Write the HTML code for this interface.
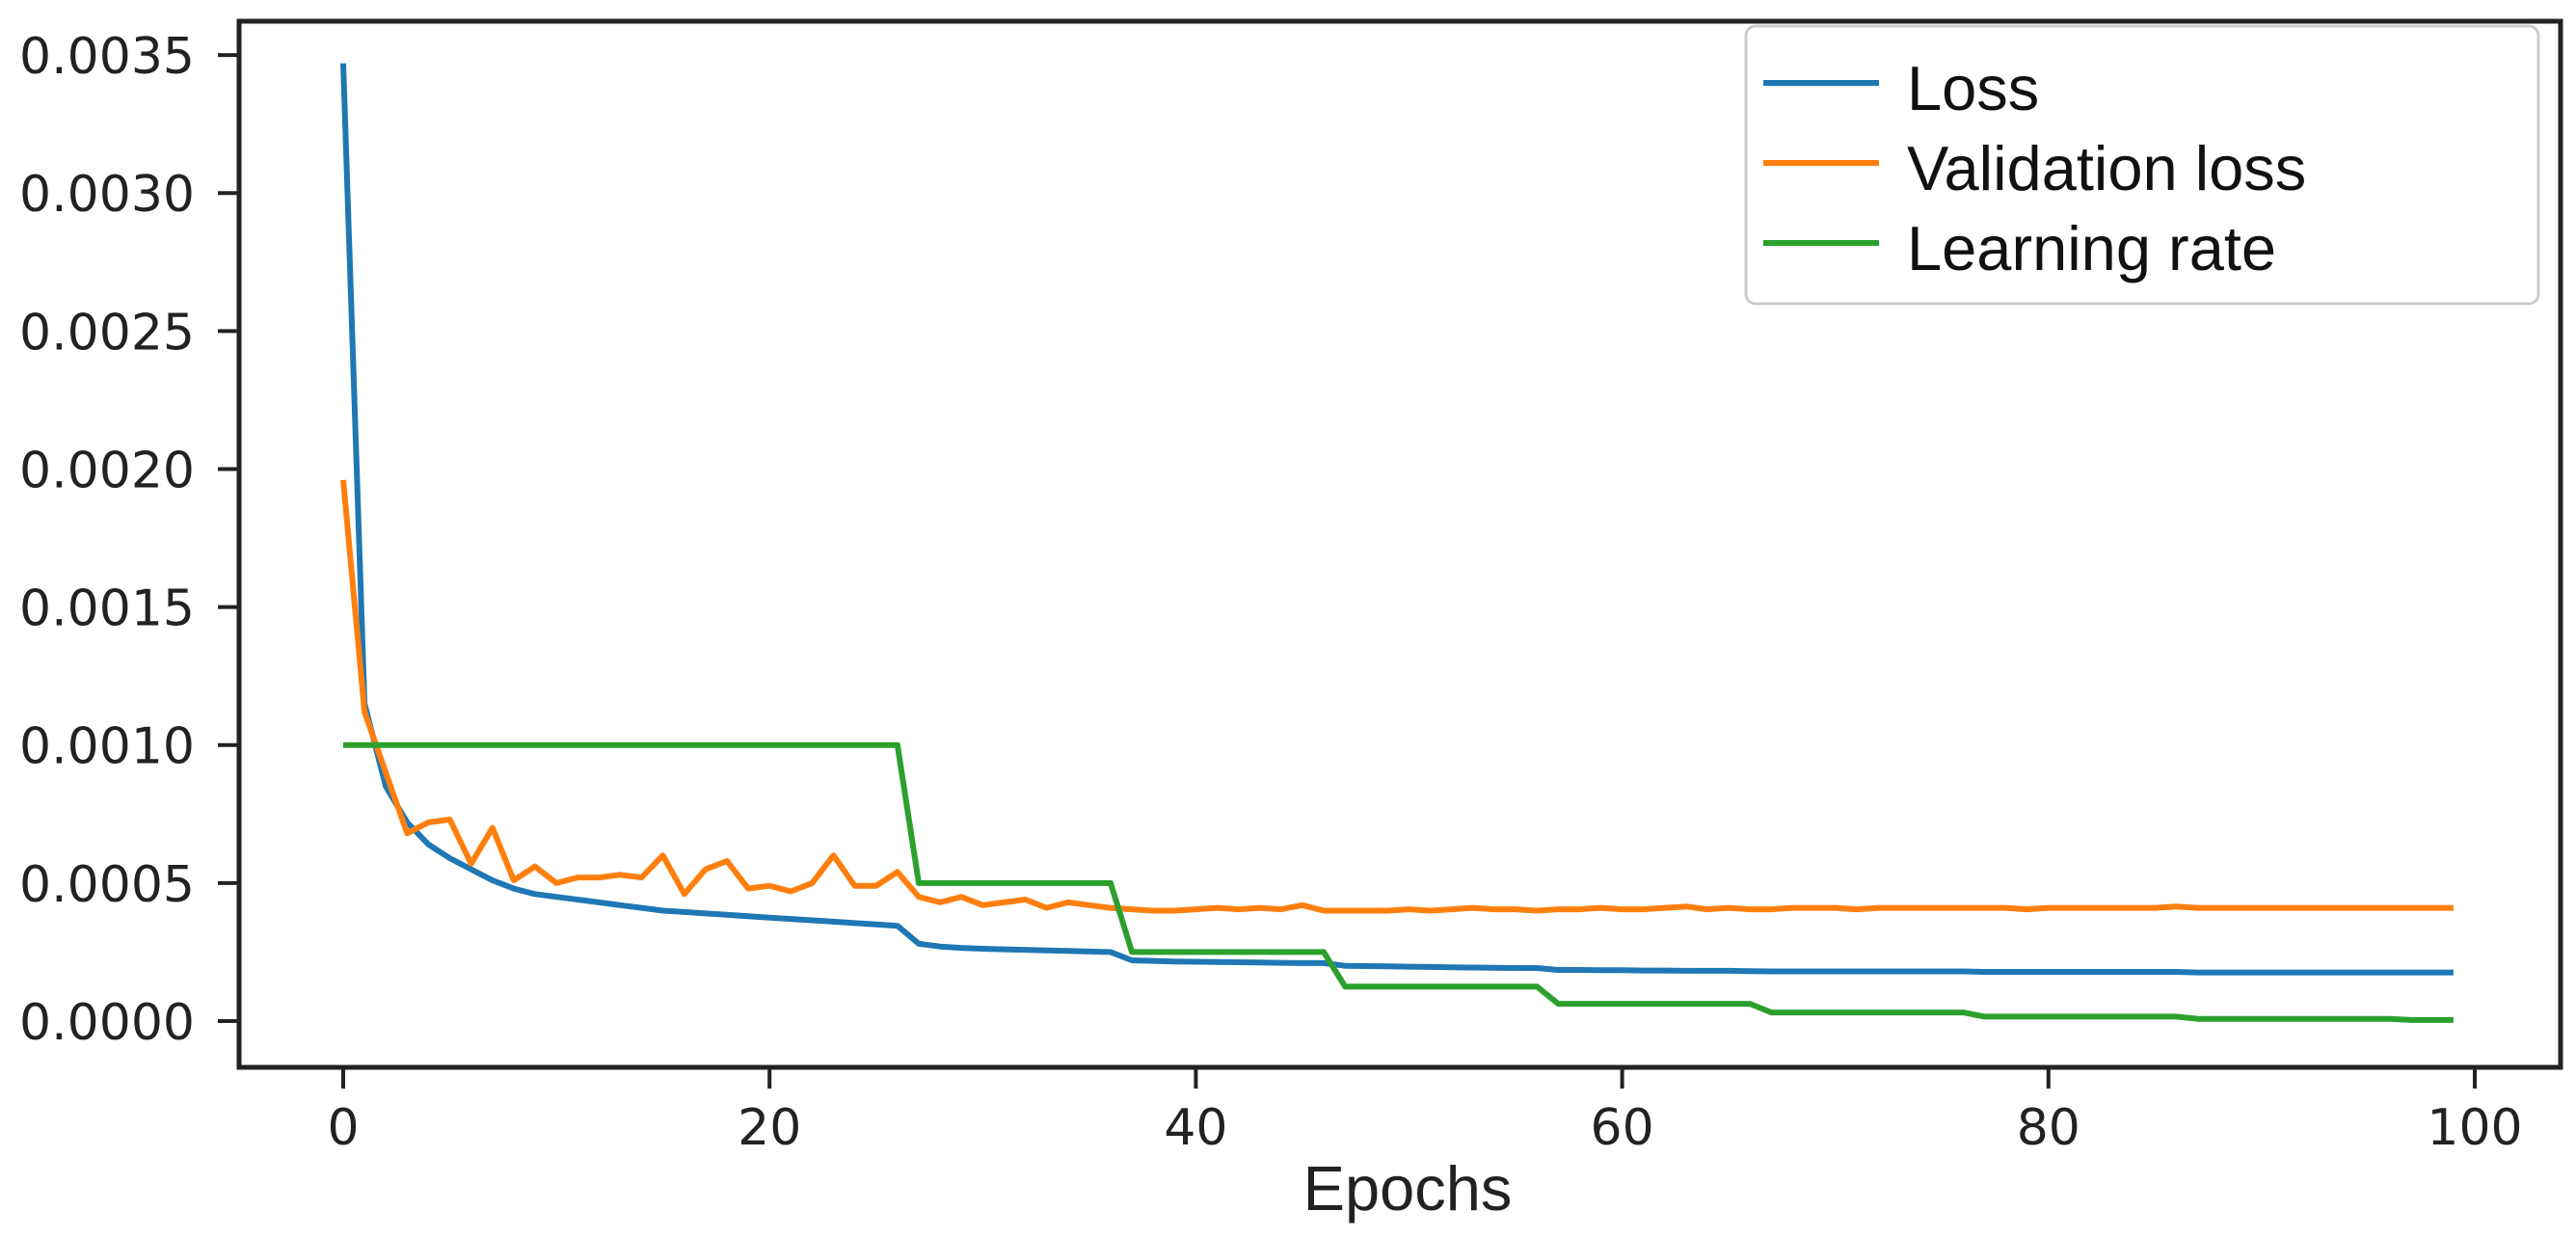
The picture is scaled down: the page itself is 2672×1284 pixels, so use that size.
<!DOCTYPE html>
<html><head><meta charset="utf-8"><style>
html,body{margin:0;padding:0;background:#fff;width:2672px;height:1284px;overflow:hidden}
svg{display:block}
</style></head><body>
<svg id="chart" width="2672" height="1284" xmlns="http://www.w3.org/2000/svg">
<rect x="0" y="0" width="2672" height="1284" fill="#fff"/>
<g id="series"></g>
<rect x="248" y="22" width="2408" height="1085" fill="none" stroke="#222" stroke-width="5"/>
<g id="yticks" font-family="DejaVu Sans, sans-serif" font-size="52" fill="#222" text-anchor="end"></g>
<g id="xticks" font-family="DejaVu Sans, sans-serif" font-size="52" fill="#222" text-anchor="middle"></g>
<text x="1460" y="1255" font-family="Liberation Sans, sans-serif" font-size="65" fill="#222" text-anchor="middle">Epochs</text>
<g>
<rect x="1811" y="27" width="822" height="288" rx="10" fill="#fff" stroke="#ccc" stroke-width="3"/>
<line x1="1829" y1="86" x2="1949" y2="86" stroke="#1f77b4" stroke-width="6"/>
<text x="1978" y="114" font-family="Liberation Sans, sans-serif" font-size="65" fill="#111">Loss</text>
<line x1="1829" y1="169" x2="1949" y2="169" stroke="#ff7f0e" stroke-width="6"/>
<text x="1978" y="197" font-family="Liberation Sans, sans-serif" font-size="65" fill="#111">Validation loss</text>
<line x1="1829" y1="252" x2="1949" y2="252" stroke="#2ca02c" stroke-width="6"/>
<text x="1978" y="280" font-family="Liberation Sans, sans-serif" font-size="65" fill="#111">Learning rate</text>
</g>
</svg>
<script>
const lossVals = [3.47,1.15,0.85,0.72,0.64,0.59,0.55,0.51,0.48,0.46,
0.45,0.44,0.43,0.42,0.41,0.40,0.395,0.39,0.385,0.38,
0.375,0.37,0.365,0.36,0.355,0.35,0.345,0.28,0.27,0.265,
0.262,0.26,0.258,0.256,0.254,0.252,0.25,0.22,0.218,0.216,
0.215,0.214,0.213,0.212,0.211,0.21,0.21,0.2,0.199,0.198,
0.197,0.196,0.195,0.194,0.193,0.192,0.192,0.185,0.185,0.184,
0.184,0.183,0.183,0.182,0.182,0.182,0.181,0.18,0.18,0.18,
0.18,0.18,0.18,0.18,0.18,0.18,0.18,0.178,0.178,0.178,
0.178,0.178,0.178,0.178,0.178,0.178,0.178,0.176,0.176,0.176,
0.176,0.176,0.176,0.176,0.176,0.176,0.176,0.176,0.176,0.176];
const valVals = [1.96,1.12,0.9,0.68,0.72,0.73,0.57,0.7,0.51,0.56,
0.5,0.52,0.52,0.53,0.52,0.6,0.46,0.55,0.58,0.48,
0.49,0.47,0.5,0.6,0.49,0.49,0.54,0.45,0.43,0.45,
0.42,0.43,0.44,0.41,0.43,0.42,0.41,0.405,0.4,0.4,
0.405,0.41,0.405,0.41,0.405,0.42,0.4,0.4,0.4,0.4,
0.405,0.4,0.405,0.41,0.405,0.405,0.4,0.405,0.405,0.41,
0.405,0.405,0.41,0.415,0.405,0.41,0.405,0.405,0.41,0.41,
0.41,0.405,0.41,0.41,0.41,0.41,0.41,0.41,0.41,0.405,
0.41,0.41,0.41,0.41,0.41,0.41,0.415,0.41,0.41,0.41,
0.41,0.41,0.41,0.41,0.41,0.41,0.41,0.41,0.41,0.41];
const lrVals = [];
for (let i=0;i<100;i++){ lrVals.push(i<=26?1:i<=36?0.5:i<=46?0.25:i<=56?0.125:i<=66?0.0625:i<=76?0.03125:i<=86?0.016:i<=96?0.008:0.004); }
const yTickVals = [0,0.0005,0.001,0.0015,0.002,0.0025,0.003,0.0035];
const yTickLabels = ["0.0000","0.0005","0.0010","0.0015","0.0020","0.0025","0.0030","0.0035"];
const xTickVals = [0,20,40,60,80,100];
const xTickLabels = ["0","20","40","60","80","100"];

const NS="http://www.w3.org/2000/svg";
function xs(e){return 356 + e*22.11;}
function ys(v){return 1059 - v*286260;}
function addLine(vals, scale, color, name){
  const d = vals.map((v,i)=>(i?'L':'M')+xs(i).toFixed(1)+','+ys(v*scale).toFixed(1)).join(' ');
  const p = document.createElementNS(NS,'path');
  p.setAttribute('d',d);p.setAttribute('fill','none');p.setAttribute('stroke',color);
  p.setAttribute('stroke-width','6');p.setAttribute('stroke-linejoin','round');
  
  
  document.getElementById('series').appendChild(p);
}
addLine(lossVals,0.001,'#1f77b4','loss-line');
addLine(valVals,0.001,'#ff7f0e','validation-loss-line');
addLine(lrVals,0.001,'#2ca02c','learning-rate-line');
const yg=document.getElementById('yticks');
yTickVals.forEach((v,i)=>{
  const y=ys(v);
  const l=document.createElementNS(NS,'line');
  l.setAttribute('x1',226);l.setAttribute('x2',248);l.setAttribute('y1',y);l.setAttribute('y2',y);
  l.setAttribute('stroke','#222');l.setAttribute('stroke-width','4');
  
  
  yg.appendChild(l);
  const t=document.createElementNS(NS,'text');
  t.setAttribute('x',202);t.setAttribute('y',y+19);t.textContent=yTickLabels[i];
  
  
  yg.appendChild(t);
});
const xg=document.getElementById('xticks');
xTickVals.forEach((v,i)=>{
  const x=xs(v);
  const l=document.createElementNS(NS,'line');
  l.setAttribute('x1',x);l.setAttribute('x2',x);l.setAttribute('y1',1107);l.setAttribute('y2',1129);
  l.setAttribute('stroke','#222');l.setAttribute('stroke-width','4');
  
  
  xg.appendChild(l);
  const t=document.createElementNS(NS,'text');
  t.setAttribute('x',x);t.setAttribute('y',1187);t.textContent=xTickLabels[i];
  
  
  xg.appendChild(t);
});
</script>
</body></html>
